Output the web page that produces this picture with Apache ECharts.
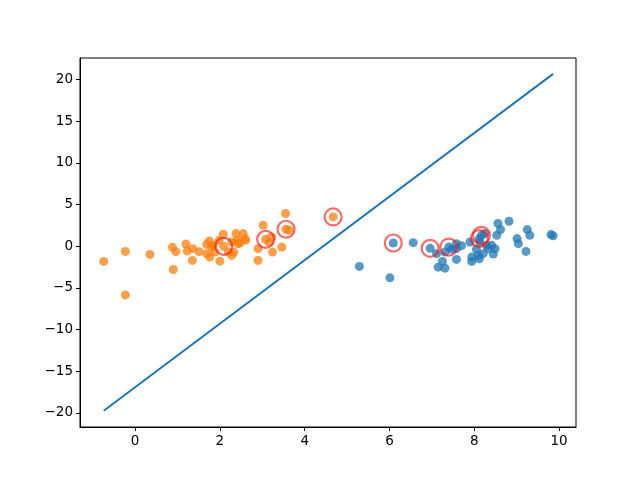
<!DOCTYPE html>
<html>
<head>
<meta charset="utf-8">
<script src="https://cdn.jsdelivr.net/npm/echarts@6/dist/echarts.min.js"></script>
<style>html,body{margin:0;padding:0;background:#fff}#c{width:640px;height:480px}</style>
</head>
<body>
<div id="c"></div>
<script>
// Class A (blue) points
const blueX = [5.29, 6.01, 6.09, 6.56, 6.96, 7.11, 7.25, 7.15, 7.31, 7.40, 7.31, 7.47, 7.58, 7.58, 7.58, 7.90, 7.94, 7.94, 8.05, 8.09, 8.13, 8.12, 8.17, 8.25, 8.33, 8.21, 8.29, 8.41, 8.49, 8.53, 8.56, 8.62, 8.82, 9.01, 9.04, 9.22, 9.25, 9.31, 9.81, 9.86, 7.70, 8.12, 8.45];
const blueY = [-2.42, -3.79, 0.39, 0.43, -0.25, -0.89, -1.82, -2.51, -2.63, -0.10, -0.70, -0.37, 0.31, -1.58, -0.29, 0.51, -1.30, -1.82, -0.37, -1.10, 0.51, 0.92, 1.31, 1.52, -0.29, -0.89, 0.11, 0.11, -0.29, 1.31, 2.73, 2.00, 3.00, 0.92, 0.31, -0.62, 2.00, 1.31, 1.40, 1.25, 0.07, -1.50, -0.94];
// Class B (orange) points
const orangeX = [-0.74, -0.23, -0.23, 0.35, 0.88, 0.96, 0.90, 1.20, 1.23, 1.36, 1.35, 1.51, 1.69, 1.75, 1.69, 1.76, 1.84, 1.88, 2.00, 2.08, 1.98, 2.09, 2.20, 2.33, 2.38, 2.41, 2.47, 2.55, 2.59, 2.61, 2.28, 2.90, 2.90, 3.02, 3.08, 3.16, 3.22, 3.24, 3.46, 3.55, 3.56, 3.63, 4.67, 1.80, 2.28, 2.43];
const orangeY = [-1.82, -0.62, -5.84, -0.98, -0.13, -0.65, -2.79, 0.27, -0.58, -0.29, -1.70, -0.65, 0.23, 0.63, -0.89, -1.30, 0.11, -0.70, -1.79, 1.44, 0.71, -0.01, -0.70, -0.70, 1.52, 0.71, 0.39, 1.52, 0.92, 0.71, 0.51, -1.70, -0.29, 2.52, 0.83, 0.47, 1.11, -0.70, -0.10, 3.93, 2.04, 1.92, 3.52, -0.10, -1.10, 0.31];
// Support vectors
const svX = [2.09, 3.08, 3.56, 4.67, 6.09, 6.96, 7.40, 8.12, 8.17];
const svY = [-0.01, 0.83, 2.04, 3.52, 0.39, -0.25, -0.10, 0.92, 1.31];
// Decision line endpoints
const lineX = [-0.74, 9.86];
const lineY = [-19.75, 20.7];
// Ticks
const xTicks = [0, 2, 4, 6, 8, 10];
const yTicks = [-20, -15, -10, -5, 0, 5, 10, 15, 20];

const zip = (a, b) => a.map((v, i) => [v, b[i]]);
const minus = v => String(v).replace('-', '\u2212');
const font = 'DejaVu Sans';

const chart = echarts.init(document.getElementById('c'), null, {renderer: 'canvas'});
chart.setOption({
  animation: false,
  backgroundColor: '#fff',
  grid: {left: 80, right: 64, top: 58, bottom: 53, show: true, borderColor: '#000', borderWidth: 1, backgroundColor: 'transparent'},
  xAxis: {
    type: 'value', min: -1.30, max: 10.40,
    axisLine: {show: true, onZero: false, lineStyle: {color: '#000', width: 1}},
    axisTick: {show: true, length: 4, customValues: xTicks, lineStyle: {color: '#000'}},
    axisLabel: {customValues: xTicks, color: '#000', fontFamily: font, fontSize: 13.5, margin: 7, formatter: minus},
    splitLine: {show: false}
  },
  yAxis: {
    type: 'value', min: -21.7, max: 22.6,
    axisLine: {show: true, onZero: false, lineStyle: {color: '#000', width: 1}},
    axisTick: {show: true, length: 4, customValues: yTicks, lineStyle: {color: '#000'}},
    axisLabel: {customValues: yTicks, color: '#000', fontFamily: font, fontSize: 13.5, margin: 7, formatter: minus},
    splitLine: {show: false}
  },
  series: [
    {type: 'scatter', data: zip(blueX, blueY), symbolSize: 9, itemStyle: {color: '#1f77b4', opacity: 0.75}, z: 2},
    {type: 'scatter', data: zip(orangeX, orangeY), symbolSize: 9, itemStyle: {color: '#ff7f0e', opacity: 0.75}, z: 2},
    {type: 'scatter', data: zip(svX, svY), symbolSize: 17, itemStyle: {color: 'rgba(0,0,0,0)', borderColor: 'rgba(255,20,20,0.8)', borderWidth: 2.2}, z: 3},
    {type: 'line', data: zip(lineX, lineY), showSymbol: false, lineStyle: {color: '#1f77b4', width: 2}, z: 4}
  ]
});
</script>
</body>
</html>
